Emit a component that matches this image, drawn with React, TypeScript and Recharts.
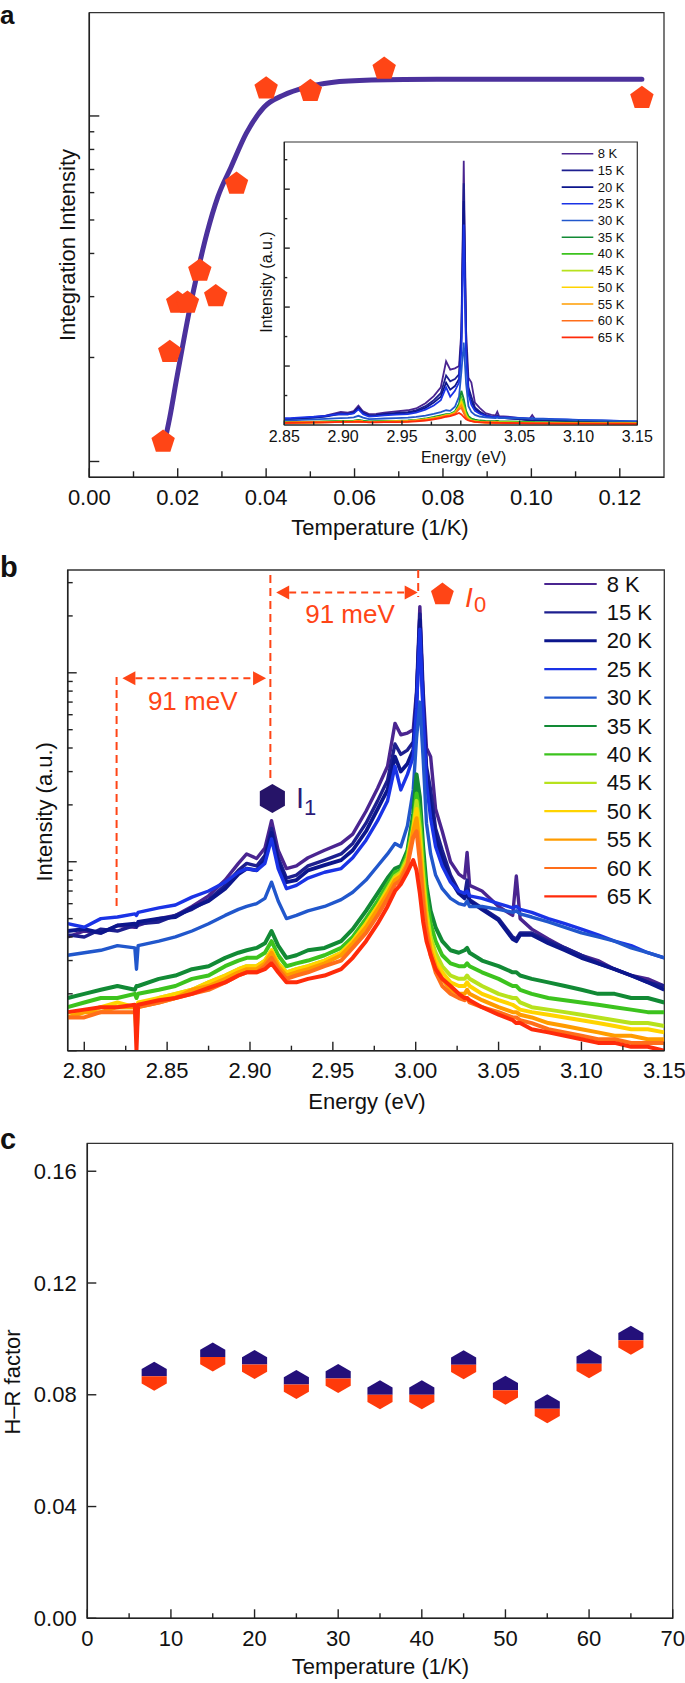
import React from 'react';
import { ComposedChart, ScatterChart, Line, Scatter, XAxis, YAxis, ReferenceArea, ReferenceLine } from 'recharts';

const FONT = '"Liberation Sans", Arial, Helvetica, sans-serif';
const INK = '#222';
const RED = '#ff4516';
const NAVY = '#24107a';

// ---------- panel a: integrated intensity vs 1/T ----------
const invT = [0.0167, 0.0182, 0.02, 0.0222, 0.025, 0.0286, 0.0333, 0.04, 0.05, 0.0667, 0.125];
const intensityA = [1.15, 2.09, 2.9, 2.9, 3.59, 3.03, 6.41, 12.1, 11.9, 13.8, 11.35];
const fitX = [0.0167, 0.0182, 0.0197, 0.0212, 0.0228, 0.0246, 0.0266, 0.0291, 0.0321, 0.0355, 0.0395, 0.044, 0.0489, 0.0548, 0.0638, 0.0786, 0.1, 0.125];
const fitY = [1.09, 1.34, 1.72, 2.19, 2.8, 3.58, 4.57, 5.84, 7.13, 8.9, 10.6, 11.5, 12.1, 12.5, 12.7, 12.77, 12.77, 12.77];
const aXTicks = [0, 0.01, 0.02, 0.03, 0.04, 0.05, 0.06, 0.07, 0.08, 0.09, 0.1, 0.11, 0.12];
const aXMajors = [0, 0.02, 0.04, 0.06, 0.08, 0.1, 0.12];
const aYTicks = [1, 2, 3, 4, 5, 6, 7, 8, 9, 10];

// ---------- panel b (and inset): PL spectra ----------
const energy = [2.79, 2.8, 2.81, 2.82, 2.8305, 2.8315, 2.8325, 2.845, 2.855, 2.865,
  2.875, 2.885, 2.893, 2.898, 2.904, 2.909, 2.913, 2.917, 2.922, 2.928,
  2.935, 2.945, 2.955, 2.962, 2.97, 2.977, 2.983, 2.9875, 2.991, 2.995,
  2.9985, 3.0005, 3.0025, 3.0045, 3.0065, 3.009, 3.012, 3.016, 3.021, 3.026,
  3.0295, 3.031, 3.0325, 3.04, 3.05, 3.0585, 3.0607, 3.063, 3.07, 3.08,
  3.09, 3.1, 3.11, 3.12, 3.13, 3.14, 3.15];

const s8 = [0.40, 0.43, 0.42, 0.46, 0.45, 0.47, 0.46, 0.50, 0.52, 0.58,
  0.66, 0.80, 0.98, 1.10, 1.04, 1.18, 1.65, 1.15, 0.92, 0.95,
  1.05, 1.15, 1.25, 1.40, 1.85, 2.45, 3.20, 5.40, 4.70, 4.80,
  5.00, 8.00, 22.4, 8.00, 4.00, 3.60, 1.90, 1.45, 1.00, 0.86,
  0.82, 1.12, 0.75, 0.70, 0.58, 0.52, 0.84, 0.50, 0.44, 0.39,
  0.35, 0.32, 0.30, 0.27, 0.25, 0.24, 0.22];
const s15 = [0.41, 0.40, 0.44, 0.43, 0.46, 0.45, 0.47, 0.48, 0.52, 0.56,
  0.63, 0.75, 0.90, 0.98, 0.95, 1.08, 1.50, 1.05, 0.82, 0.85,
  0.95, 1.02, 1.10, 1.25, 1.60, 2.10, 2.70, 4.20, 3.70, 3.90,
  4.30, 7.50, 20.5, 7.00, 3.20, 2.40, 1.50, 1.15, 0.85, 0.70,
  0.66, 0.80, 0.63, 0.57, 0.50, 0.40, 0.39, 0.42, 0.42, 0.38,
  0.35, 0.32, 0.29, 0.27, 0.25, 0.23, 0.22];
const s20 = [0.43, 0.44, 0.42, 0.46, 0.47, 0.46, 0.48, 0.50, 0.51, 0.57,
  0.62, 0.72, 0.86, 0.92, 0.90, 1.02, 1.42, 1.00, 0.78, 0.80,
  0.90, 0.96, 1.02, 1.15, 1.45, 1.90, 2.40, 3.60, 3.00, 3.30,
  3.90, 7.00, 19.0, 6.50, 2.80, 2.00, 1.35, 1.05, 0.80, 0.68,
  0.64, 0.70, 0.62, 0.56, 0.49, 0.39, 0.38, 0.41, 0.41, 0.37,
  0.34, 0.31, 0.29, 0.27, 0.25, 0.23, 0.21];
const s25 = [0.47, 0.45, 0.50, 0.51, 0.53, 0.52, 0.54, 0.57, 0.59, 0.65,
  0.70, 0.78, 0.88, 0.92, 0.90, 0.98, 1.32, 0.92, 0.72, 0.75,
  0.82, 0.88, 0.92, 1.05, 1.30, 1.65, 2.10, 3.20, 2.40, 2.90,
  3.60, 6.50, 17.0, 6.00, 2.60, 1.70, 1.20, 0.95, 0.78, 0.70,
  0.68, 0.70, 0.66, 0.64, 0.60, 0.57, 0.58, 0.56, 0.54, 0.50,
  0.47, 0.44, 0.41, 0.38, 0.36, 0.33, 0.31];
const s30 = [0.32, 0.33, 0.34, 0.36, 0.35, 0.27, 0.36, 0.38, 0.40, 0.43,
  0.47, 0.52, 0.56, 0.58, 0.60, 0.64, 0.78, 0.62, 0.50, 0.52,
  0.55, 0.58, 0.63, 0.69, 0.80, 0.95, 1.10, 1.25, 1.20, 1.55,
  2.40, 4.50, 7.00, 3.50, 1.60, 1.10, 0.85, 0.72, 0.64, 0.60,
  0.59, 0.62, 0.58, 0.58, 0.56, 0.54, 0.55, 0.53, 0.51, 0.48,
  0.45, 0.42, 0.40, 0.38, 0.35, 0.33, 0.31];
const s35 = [0.19, 0.20, 0.21, 0.22, 0.21, 0.22, 0.22, 0.24, 0.25, 0.27,
  0.28, 0.31, 0.33, 0.34, 0.35, 0.37, 0.43, 0.36, 0.31, 0.32,
  0.34, 0.35, 0.38, 0.44, 0.55, 0.68, 0.82, 0.92, 0.95, 1.15,
  1.80, 2.90, 2.20, 1.20, 0.75, 0.55, 0.45, 0.38, 0.34, 0.33,
  0.34, 0.35, 0.33, 0.30, 0.28, 0.26, 0.26, 0.25, 0.24, 0.23,
  0.22, 0.21, 0.20, 0.20, 0.19, 0.19, 0.18];
const s40 = [0.17, 0.18, 0.19, 0.19, 0.20, 0.19, 0.20, 0.21, 0.22, 0.24,
  0.25, 0.28, 0.30, 0.31, 0.31, 0.33, 0.38, 0.32, 0.28, 0.29,
  0.30, 0.32, 0.35, 0.40, 0.50, 0.62, 0.76, 0.88, 0.90, 1.10,
  1.60, 2.30, 1.80, 1.00, 0.65, 0.47, 0.38, 0.32, 0.29, 0.28,
  0.28, 0.29, 0.28, 0.26, 0.24, 0.22, 0.22, 0.21, 0.20, 0.19,
  0.185, 0.18, 0.175, 0.17, 0.165, 0.16, 0.16];
const s45 = [0.15, 0.16, 0.17, 0.17, 0.17, 0.12, 0.17, 0.19, 0.20, 0.21,
  0.23, 0.25, 0.27, 0.28, 0.28, 0.30, 0.34, 0.29, 0.26, 0.27,
  0.28, 0.30, 0.33, 0.38, 0.47, 0.58, 0.72, 0.84, 0.88, 1.05,
  1.50, 2.10, 1.50, 0.85, 0.55, 0.40, 0.33, 0.28, 0.25, 0.24,
  0.24, 0.25, 0.24, 0.22, 0.20, 0.19, 0.19, 0.18, 0.17, 0.165,
  0.16, 0.155, 0.15, 0.145, 0.14, 0.14, 0.135];
const s50 = [0.16, 0.16, 0.17, 0.18, 0.17, 0.17, 0.18, 0.19, 0.20, 0.21,
  0.23, 0.25, 0.27, 0.28, 0.28, 0.30, 0.34, 0.29, 0.26, 0.27,
  0.28, 0.30, 0.33, 0.38, 0.47, 0.58, 0.70, 0.82, 0.86, 1.00,
  1.50, 1.90, 1.30, 0.75, 0.50, 0.37, 0.30, 0.26, 0.23, 0.22,
  0.22, 0.23, 0.22, 0.20, 0.185, 0.175, 0.17, 0.165, 0.16, 0.155,
  0.15, 0.145, 0.14, 0.135, 0.13, 0.13, 0.125];
const s55 = [0.15, 0.16, 0.16, 0.17, 0.17, 0.17, 0.17, 0.18, 0.19, 0.21,
  0.22, 0.24, 0.26, 0.27, 0.27, 0.29, 0.33, 0.28, 0.25, 0.26,
  0.27, 0.29, 0.32, 0.37, 0.45, 0.56, 0.68, 0.80, 0.84, 0.98,
  1.45, 1.70, 1.15, 0.68, 0.46, 0.34, 0.28, 0.24, 0.21, 0.20,
  0.20, 0.21, 0.20, 0.185, 0.17, 0.16, 0.16, 0.155, 0.15, 0.14,
  0.135, 0.13, 0.125, 0.12, 0.12, 0.115, 0.115];
const s60 = [0.15, 0.15, 0.16, 0.16, 0.16, 0.16, 0.17, 0.18, 0.19, 0.20,
  0.21, 0.23, 0.25, 0.26, 0.26, 0.28, 0.31, 0.27, 0.24, 0.25,
  0.26, 0.28, 0.30, 0.35, 0.42, 0.52, 0.64, 0.76, 0.80, 0.95,
  1.35, 1.45, 1.00, 0.60, 0.42, 0.32, 0.26, 0.22, 0.20, 0.19,
  0.185, 0.19, 0.18, 0.17, 0.16, 0.15, 0.15, 0.145, 0.14, 0.13,
  0.125, 0.12, 0.115, 0.115, 0.11, 0.11, 0.11];
const s65 = [0.16, 0.165, 0.17, 0.17, 0.175, 0.10, 0.175, 0.185, 0.19, 0.20,
  0.215, 0.23, 0.25, 0.26, 0.26, 0.27, 0.29, 0.26, 0.23, 0.23,
  0.24, 0.25, 0.27, 0.31, 0.38, 0.47, 0.58, 0.70, 0.76, 0.88,
  1.02, 0.90, 0.68, 0.48, 0.38, 0.32, 0.27, 0.24, 0.22, 0.20,
  0.19, 0.19, 0.185, 0.17, 0.155, 0.145, 0.14, 0.14, 0.13, 0.125,
  0.12, 0.115, 0.11, 0.11, 0.105, 0.105, 0.10];

const tempLabels = ['8 K', '15 K', '20 K', '25 K', '30 K', '35 K', '40 K', '45 K', '50 K', '55 K', '60 K', '65 K'];
const tempColors = ['#4a2590', '#1d1f8f', '#0c168c', '#1a33e6', '#2157cc', '#128a35', '#3cc31e', '#b7e21d', '#ffd400', '#ff9c00', '#ff6e1a', '#ff2b0a'];
const spectra = [s8, s15, s20, s25, s30, s35, s40, s45, s50, s55, s60, s65];

const rowsB = energy.map((e, i) => {
  const row: Record<string, number> = { e };
  spectra.forEach((s, k) => { row['k' + k] = s[i]; });
  return row;
});

const bXTicks = [2.8, 2.825, 2.85, 2.875, 2.9, 2.925, 2.95, 2.975, 3.0, 3.025, 3.05, 3.075, 3.1, 3.125, 3.15];
const bXMajors = [2.8, 2.85, 2.9, 2.95, 3.0, 3.05, 3.1, 3.15];
const bYTicks = [0.1, 0.2, 0.3, 0.4, 0.5, 0.6, 0.7, 0.8, 0.9, 1, 2, 3, 4, 5, 6, 7, 8, 9, 10, 20, 30];
const insetXTicks = [2.85, 2.875, 2.9, 2.925, 2.95, 2.975, 3.0, 3.025, 3.05, 3.075, 3.1, 3.125, 3.15];
const insetXMajors = [2.85, 2.9, 2.95, 3.0, 3.05, 3.1, 3.15];
const insetYTicks = [2.5, 5, 7.5, 10, 12.5, 15, 17.5, 20, 22.5];

// annotation markers in panel b
const peakI1 = [{ e: 2.9135, v: 2.16 }];
const peakI0 = [{ e: 3.0161, v: 26.3 }];

// ---------- panel c: H-R factor ----------
const tempC = [8, 15, 20, 25, 30, 35, 40, 45, 50, 55, 60, 65];
const hrFactor = [0.0866, 0.0935, 0.0908, 0.0837, 0.0858, 0.08, 0.08, 0.0907, 0.0816, 0.075, 0.0911, 0.0995];
const cXTicks = [0, 5, 10, 15, 20, 25, 30, 35, 40, 45, 50, 55, 60, 65, 70];
const cXMajors = [0, 10, 20, 30, 40, 50, 60, 70];
const cYTicks = [0, 0.04, 0.08, 0.12, 0.16];

type TickOpt = {
  side: 'bottom' | 'left';
  majors: number[];
  majorLen: number;
  minorLen: number;
  gap: number;
  fontSize: number;
  labels?: boolean;
  fmt?: (v: number) => string;
};

// tick lines point into the plot, labels only on major ticks
const makeTick = (o: TickOpt) => (props: any) => {
  const { x, y, payload } = props;
  const v = payload.value as number;
  const major = o.majors.some(m => Math.abs(m - v) < 1e-9);
  const len = major ? o.majorLen : o.minorLen;
  const label = major && o.labels !== false ? (o.fmt ? o.fmt(v) : String(v)) : '';
  if (o.side === 'bottom') {
    const ay = y - o.gap;
    return (
      <g>
        <line x1={x} x2={x} y1={ay} y2={ay - len} stroke={INK} strokeWidth={1.4} />
        {label && (
          <text x={x} y={y} textAnchor="middle" dominantBaseline="central" fontSize={o.fontSize} fontFamily={FONT} fill="#111">
            {label}
          </text>
        )}
      </g>
    );
  }
  const ax = x + o.gap;
  return (
    <g>
      <line x1={ax} x2={ax + len} y1={y} y2={y} stroke={INK} strokeWidth={1.4} />
      {label && (
        <text x={x} y={y} textAnchor="end" dominantBaseline="central" fontSize={o.fontSize} fontFamily={FONT} fill="#111">
          {label}
        </text>
      )}
    </g>
  );
};

const pentagon = (cx: number, cy: number, r: number) => {
  const pts = [];
  for (let i = 0; i < 5; i++) {
    const a = -Math.PI / 2 + (i * 2 * Math.PI) / 5;
    pts.push(`${cx + r * Math.cos(a)},${cy + 0.095 * r + r * Math.sin(a)}`);
  }
  return pts.join(' ');
};

const PentShape = (p: any) => <polygon points={pentagon(p.cx, p.cy, 12.3)} fill={RED} />;
const PentSmall = (p: any) => <polygon points={pentagon(p.cx, p.cy, 12)} fill={RED} />;

const HexShape = (p: any) => {
  const { cx, cy } = p;
  const r = 14.5, w = 0.866 * r;
  return <polygon points={`${cx},${cy - r} ${cx + w},${cy - r / 2} ${cx + w},${cy + r / 2} ${cx},${cy + r} ${cx - w},${cy + r / 2} ${cx - w},${cy - r / 2}`} fill="#261468" />;
};

const HexSplit = (p: any) => {
  const { cx, cy } = p;
  const r = 14.5, w = 0.866 * r;
  return (
    <g>
      <polygon points={`${cx - w},${cy} ${cx - w},${cy - r / 2} ${cx},${cy - r} ${cx + w},${cy - r / 2} ${cx + w},${cy}`} fill={NAVY} />
      <polygon points={`${cx - w},${cy} ${cx - w},${cy + r / 2} ${cx},${cy + r} ${cx + w},${cy + r / 2} ${cx + w},${cy}`} fill="#ff3a0a" />
    </g>
  );
};

const ArrowShape = (p: any) => {
  const { x1, y1, x2, y2 } = p;
  const h = 13, w = 7;
  const a = Math.min(x1, x2), b = Math.max(x1, x2);
  return (
    <g>
      <line x1={a + h} y1={y1} x2={b - h} y2={y2} stroke={RED} strokeWidth={2} strokeDasharray="7 5" />
      <polygon points={`${a},${y1} ${a + h},${y1 - w} ${a + h},${y1 + w}`} fill={RED} />
      <polygon points={`${b},${y2} ${b - h},${y2 - w} ${b - h},${y2 + w}`} fill={RED} />
    </g>
  );
};

const fitData = fitX.map((x, i) => ({ x, y: fitY[i] }));
const pointsA = invT.map((x, i) => ({ x, y: intensityA[i] }));
const pointsC = tempC.map((t, i) => ({ t, hr: hrFactor[i] }));

const axisLine = { stroke: INK, strokeWidth: 1.5 };

const PanelA = () => (
  <div style={{ position: 'absolute', left: 0, top: 0 }}>
    <ComposedChart width={685} height={545} margin={{ top: 12.7, left: 88.3, right: 21, bottom: 66.7 }}>
      <XAxis dataKey="x" type="number" domain={[0, 0.13]} allowDataOverflow ticks={aXTicks} interval={0} height={1}
        tickSize={0} tickMargin={19.7} axisLine={axisLine} tickLine={false}
        tick={makeTick({ side: 'bottom', majors: aXMajors, majorLen: 9, minorLen: 6, gap: 19.7, fontSize: 22, fmt: v => v.toFixed(2) })} />
      <YAxis dataKey="y" type="number" scale="log" domain={[0.9, 19.9]} allowDataOverflow ticks={aYTicks} interval={0} width={1}
        tickSize={0} tickMargin={0} axisLine={axisLine} tickLine={false}
        tick={makeTick({ side: 'left', majors: [1, 10], majorLen: 10, minorLen: 5, gap: 0, fontSize: 22, labels: false })} />
      <ReferenceArea x1={0} x2={0.13} y1={0.9} y2={19.9} fill="none" stroke="#333" strokeWidth={1.3} />
      <Scatter data={pointsA} dataKey="y" shape={PentShape} isAnimationActive={false} />
      <Line data={fitData} dataKey="y" type="monotone" stroke="#4b319c" strokeWidth={5} strokeLinecap="round" dot={false} activeDot={false} isAnimationActive={false} />
    </ComposedChart>
  </div>
);

const InsetA = () => (
  <div style={{ position: 'absolute', left: 230, top: 130 }}>
    <ComposedChart width={440} height={350} data={rowsB} margin={{ top: 12, left: 53.3, right: 32.7, bottom: 54 }}>
      <XAxis dataKey="e" type="number" domain={[2.85, 3.15]} allowDataOverflow ticks={insetXTicks} interval={0} height={1}
        tickSize={0} tickMargin={11.7} axisLine={{ stroke: INK, strokeWidth: 1.2 }} tickLine={false}
        tick={makeTick({ side: 'bottom', majors: insetXMajors, majorLen: 4.5, minorLen: 3.5, gap: 11.7, fontSize: 16, fmt: v => v.toFixed(2) })} />
      <YAxis type="number" domain={[0, 24]} allowDataOverflow ticks={insetYTicks} interval={0} width={1}
        tickSize={0} tickMargin={0} axisLine={{ stroke: INK, strokeWidth: 1.2 }} tickLine={false}
        tick={makeTick({ side: 'left', majors: [5, 10, 15, 20], majorLen: 5.5, minorLen: 3, gap: 0, fontSize: 16, labels: false })} />
      <ReferenceArea x1={2.85} x2={3.15} y1={0} y2={24} fill="#fff" fillOpacity={0} stroke="#333" strokeWidth={1.2} />
      {spectra.map((_, k) => (
        <Line key={k} dataKey={'k' + k} type="linear" stroke={tempColors[k]} strokeWidth={1.8} dot={false} activeDot={false} isAnimationActive={false} />
      ))}
    </ComposedChart>
  </div>
);

const PanelB = () => (
  <div style={{ position: 'absolute', left: 0, top: 540 }}>
    <ComposedChart width={685} height={545} data={rowsB} margin={{ top: 30, left: 66.7, right: 20.7, bottom: 33.3 }}>
      <XAxis dataKey="e" type="number" domain={[2.79, 3.15]} allowDataOverflow ticks={bXTicks} interval={0} height={1}
        tickSize={0} tickMargin={19.3} axisLine={axisLine} tickLine={false}
        tick={makeTick({ side: 'bottom', majors: bXMajors, majorLen: 9, minorLen: 5, gap: 19.3, fontSize: 22, fmt: v => v.toFixed(2) })} />
      <YAxis type="number" scale="log" domain={[0.1, 35]} allowDataOverflow ticks={bYTicks} interval={0} width={1}
        tickSize={0} tickMargin={0} axisLine={axisLine} tickLine={false}
        tick={makeTick({ side: 'left', majors: [0.1, 1, 10], majorLen: 9, minorLen: 5, gap: 0, fontSize: 22, labels: false })} />
      <ReferenceArea x1={2.79} x2={3.15} y1={0.1} y2={35} fill="none" stroke="#333" strokeWidth={1.3} />
      {spectra.map((_, k) => (
        <Line key={k} dataKey={'k' + k} type="linear" stroke={tempColors[k]} strokeWidth={k >= 5 ? 4 : k === 2 ? 3.8 : 3.4} strokeLinejoin="round" dot={false} activeDot={false} isAnimationActive={false} />
      ))}
      <ReferenceLine segment={[{ x: 2.8195, y: 9.5 }, { x: 2.8195, y: 0.55 }]} stroke={RED} strokeWidth={2} strokeDasharray="8 5" ifOverflow="visible" />
      <ReferenceLine segment={[{ x: 2.9123, y: 32.9 }, { x: 2.9123, y: 2.63 }]} stroke={RED} strokeWidth={2} strokeDasharray="8 5" ifOverflow="visible" />
      <ReferenceLine segment={[{ x: 3.0015, y: 35 }, { x: 3.0015, y: 25.2 }]} stroke={RED} strokeWidth={2} strokeDasharray="8 5" ifOverflow="visible" />
      <ReferenceLine segment={[{ x: 2.823, y: 9.35 }, { x: 2.9097, y: 9.35 }]} shape={ArrowShape} ifOverflow="visible" />
      <ReferenceLine segment={[{ x: 2.9158, y: 26.6 }, { x: 3.0012, y: 26.6 }]} shape={ArrowShape} ifOverflow="visible" />
      <Scatter data={peakI1} dataKey="v" shape={HexShape} isAnimationActive={false} />
      <Scatter data={peakI0} dataKey="v" shape={PentSmall} isAnimationActive={false} />
    </ComposedChart>
  </div>
);

const PanelC = () => (
  <div style={{ position: 'absolute', left: 0, top: 1120 }}>
    <ScatterChart width={685} height={563} margin={{ top: 23.3, left: 86.3, right: 12.3, bottom: 63.7 }}>
      <XAxis dataKey="t" type="number" domain={[0, 70]} allowDataOverflow ticks={cXTicks} interval={0} height={1}
        tickSize={0} tickMargin={19.7} axisLine={axisLine} tickLine={false}
        tick={makeTick({ side: 'bottom', majors: cXMajors, majorLen: 9, minorLen: 5, gap: 19.7, fontSize: 22 })} />
      <YAxis dataKey="hr" type="number" domain={[0, 0.17]} allowDataOverflow ticks={cYTicks} interval={0} width={1}
        tickSize={0} tickMargin={10.6} axisLine={axisLine} tickLine={false}
        tick={makeTick({ side: 'left', majors: cYTicks, majorLen: 9, minorLen: 9, gap: 10.6, fontSize: 22, fmt: v => v.toFixed(2) })} />
      <ReferenceArea x1={0} x2={70} y1={0} y2={0.17} fill="none" stroke="#333" strokeWidth={1.3} />
      <Scatter data={pointsC} shape={HexSplit} isAnimationActive={false} />
    </ScatterChart>
  </div>
);

const T = (p: any) => <text fontFamily={FONT} fill="#111" {...p} />;

const Overlay = () => (
  <svg width={685} height={1683} style={{ position: 'absolute', left: 0, top: 0, pointerEvents: 'none' }}>
    <T x={0} y={24} fontSize={26} fontWeight="bold">a</T>
    <T x={0} y={576.7} fontSize={29} fontWeight="bold">b</T>
    <T x={0} y={1149} fontSize={29} fontWeight="bold">c</T>

    {/* panel a titles */}
    <T x={380} y={527} fontSize={22} textAnchor="middle" dominantBaseline="central">Temperature (1/K)</T>
    <T x={67} y={245} fontSize={22} textAnchor="middle" dominantBaseline="central" transform="rotate(-90 67 245)">Integration Intensity</T>
    <T x={463.6} y={457} fontSize={16} textAnchor="middle" dominantBaseline="central">Energy (eV)</T>
    <T x={266} y={282} fontSize={16} textAnchor="middle" dominantBaseline="central" transform="rotate(-90 266 282)">Intensity (a.u.)</T>
    {tempLabels.map((t, i) => (
      <g key={t}>
        <line x1={561.7} x2={593.3} y1={153.7 + i * 16.7} y2={153.7 + i * 16.7} stroke={tempColors[i]} strokeWidth={1.6} />
        <T x={597.7} y={153.7 + i * 16.7} fontSize={13} dominantBaseline="central">{t}</T>
      </g>
    ))}

    {/* panel b titles and notes */}
    <T x={367} y={1101} fontSize={22} textAnchor="middle" dominantBaseline="central">Energy (eV)</T>
    <T x={45} y={811.8} fontSize={22} textAnchor="middle" dominantBaseline="central" transform="rotate(-90 45 811.8)">Intensity (a.u.)</T>
    {tempLabels.map((t, i) => (
      <g key={'b' + t}>
        <line x1={544.3} x2={596.7} y1={584 + i * 28.4} y2={584 + i * 28.4} stroke={tempColors[i]} strokeWidth={i === 2 ? 3 : 2.2} />
        <T x={606.7} y={584 + i * 28.4} fontSize={22} dominantBaseline="central">{t}</T>
      </g>
    ))}
    <T x={350} y={614} fontSize={26} fill={RED} textAnchor="middle" dominantBaseline="central">91 meV</T>
    <T x={192.7} y={700.7} fontSize={26} fill={RED} textAnchor="middle" dominantBaseline="central">91 meV</T>
    <T x={465} y={607} fontSize={28} fill={RED} fontStyle="italic">I</T>
    <T x={474} y={612} fontSize={22} fill={RED}>0</T>
    <T x={296} y={808} fontSize={29} fill="#2c1a78">I</T>
    <T x={304} y={815} fontSize={22} fill="#2c1a78">1</T>

    {/* panel c titles */}
    <T x={380.5} y={1666} fontSize={22} textAnchor="middle" dominantBaseline="central">Temperature (1/K)</T>
    <T x={12} y={1382} fontSize={22} textAnchor="middle" dominantBaseline="central" transform="rotate(-90 12 1382)">H–R factor</T>
  </svg>
);

export default function App() {
  return (
    <div style={{ position: 'absolute', left: 0, top: 0, width: 685, height: 1683, background: '#fff', fontFamily: FONT, overflow: 'hidden' }}>
      <PanelA />
      <InsetA />
      <PanelB />
      <PanelC />
      <Overlay />
    </div>
  );
}
